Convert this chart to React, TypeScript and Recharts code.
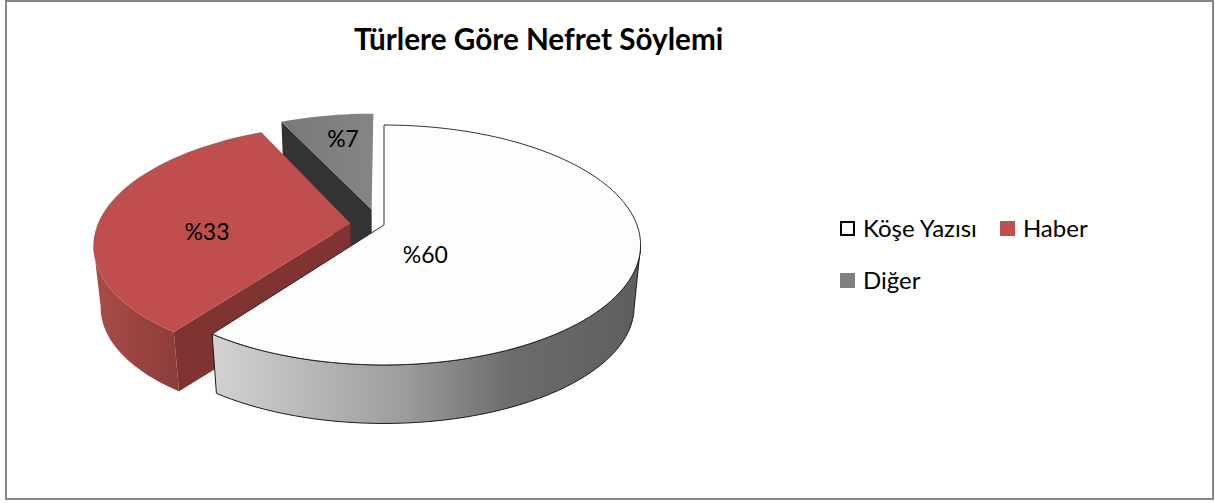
import { PieChart, Pie, Legend } from "recharts";

const categories = ["Köşe Yazısı", "Haber", "Diğer"];
const shares = [60, 33, 7];

const FONT = "Lato, sans-serif";
const WIDTH = 1215;
const HEIGHT = 503;

// tilt of the fake 3d disc
const PERSPECTIVE = 1 / 6;
const SQUASH = 0.461;
const FLOOR_SCALE = 0.975;
const DEPTH = 62;

const looks: Record<string, any> = {
  "Köşe Yazısı": {
    top: "#FDFDFD", side: "url(#whiteSide)", cut: "#FDFDFD", stroke: "#1a1a1a", legend: "#FFFFFF", legendStroke: "#000",
    shift: [0, 0], labelAt: 0.3, nudge: [-32, 18],
  },
  Haber: {
    top: "#BE4F4C", side: "url(#redSide)", cut: "#7F3432", stroke: "none", legend: "#C0504D", legendStroke: "#C0504D",
    shift: [-0.133, -0.013], labelAt: 0.565, nudge: [-3, 14],
  },
  "Diğer": {
    top: "url(#greyTop)", side: "#5a5a5a", cut: "#333333", stroke: "none", legend: "#7F7F7F", legendStroke: "#7F7F7F",
    shift: [-0.05, -0.135], labelAt: 0.72, nudge: [5, -1],
  },
};

// painted back to front, so the first category comes last and the angles run the other way
const tableData = categories.map((name, i) => ({ name, value: shares[i] })).reverse();

const rad = (deg: number) => (deg * Math.PI) / 180;

function project(theta: number, frac: number, look: any, R: number, floor = false) {
  const X = frac * Math.sin(rad(theta)) + look.shift[0];
  const Y = -frac * Math.cos(rad(theta)) + look.shift[1];
  const w = 1 - PERSPECTIVE * Y;
  const sx = (R * X) / w;
  const sy = (SQUASH * R * Y) / w;
  return floor ? [sx * FLOOR_SCALE, sy * FLOOR_SCALE + DEPTH] : [sx, sy];
}

const toPath = (pts: number[][], cx: number, cy: number) =>
  "M" + pts.map((p) => `${(p[0] + cx).toFixed(2)},${(p[1] + cy).toFixed(2)}`).join("L") + "Z";

function DiscSlice(props: any) {
  const { cx, cy, outerRadius: R, startAngle, endAngle } = props;
  const name = props.payload?.name ?? props.name;
  const look = looks[name];
  // recharts angles are counter clockwise from 3 o'clock, here clockwise from 12
  const a = 90 - endAngle + 360;
  const b = 90 - startAngle + 360;
  const t1 = Math.min(a, b);
  const t2 = Math.max(a, b);

  const steps = Math.max(8, Math.ceil((t2 - t1) / 2));
  const thetas = Array.from({ length: steps + 1 }, (_, i) => t1 + ((t2 - t1) * i) / steps);
  const topRim = thetas.map((t) => project(t, 1, look, R));
  const floorRim = thetas.map((t) => project(t, 1, look, R, true));
  const apex = project(0, 0, look, R);
  const apexFloor = project(0, 0, look, R, true);

  // the wall only runs over the part of the rim that faces the viewer
  const facing = thetas.map((t) => -Math.cos(rad(t)) >= PERSPECTIVE);
  const wallTop = topRim.filter((_, i) => facing[i]);
  const wallFloor = floorRim.filter((_, i) => facing[i]).reverse();

  const showStart = Math.sin(rad(t1)) < -0.01;
  const showEnd = Math.sin(rad(t2)) > 0.01;
  const last = topRim.length - 1;
  const cutFace = (i: number) => toPath([apex, topRim[i], floorRim[i], apexFloor], cx, cy);

  return (
    <g>
      {wallTop.length > 1 && (
        <path d={toPath([...wallTop, ...wallFloor], cx, cy)} fill={look.side} stroke={look.stroke} strokeWidth={1} />
      )}
      {showStart && <path d={cutFace(0)} fill={look.cut} />}
      {showEnd && <path d={cutFace(last)} fill={look.cut} />}
      <path d={toPath([apex, ...topRim], cx, cy)} fill={look.top} stroke={look.stroke} strokeWidth={0.9} />
    </g>
  );
}

function sliceLabel(props: any) {
  const { cx, cy, outerRadius, midAngle, name, value } = props;
  const look = looks[name];
  const p = project(90 - midAngle, look.labelAt, look, outerRadius);
  return (
    <text
      x={cx + p[0] + look.nudge[0]}
      y={cy + p[1] + look.nudge[1]}
      textAnchor="middle"
      dominantBaseline="central"
      fontFamily={FONT}
      fontSize={23}
      fill="#000"
    >
      %{value}
    </text>
  );
}

function LegendBox({ payload }: any) {
  const items = [...(payload ?? [])].reverse();
  return (
    <div style={{ display: "flex", flexWrap: "wrap", width: 290, fontFamily: FONT, fontSize: 24, color: "#000", lineHeight: "28px", rowGap: 24 }}>
      {items.map((it: any) => {
        const look = looks[it.value];
        return (
          <div key={it.value} style={{ display: "flex", alignItems: "center", marginRight: 23 }}>
            <svg width={15} height={15} style={{ marginRight: 8 }}>
              <rect x={1} y={1} width={13} height={13} fill={look.legend} stroke={look.legendStroke} strokeWidth={2} />
            </svg>
            <span>{it.value}</span>
          </div>
        );
      })}
    </div>
  );
}

export default function App() {
  return (
    <div style={{ position: "absolute", left: 0, top: 0, width: WIDTH, height: HEIGHT, background: "#fff" }}>
      <div
        style={{
          position: "absolute",
          left: 5,
          top: 0,
          width: 1209,
          height: 500,
          boxSizing: "border-box",
          border: "2px solid #868686",
        }}
      />
      <PieChart width={WIDTH} height={HEIGHT} margin={{ top: 0, right: 0, bottom: 0, left: 0 }} style={{ position: "absolute", left: 0, top: 0 }}>
        <defs>
          <linearGradient id="whiteSide" gradientUnits="userSpaceOnUse" x1={213} y1={0} x2={640} y2={0}>
            <stop offset="0%" stopColor="#D2D2D2" />
            <stop offset="45%" stopColor="#9C9C9C" />
            <stop offset="70%" stopColor="#6C6C6C" />
            <stop offset="100%" stopColor="#5E5E5E" />
          </linearGradient>
          <linearGradient id="redSide" gradientUnits="userSpaceOnUse" x1={94} y1={0} x2={180} y2={0}>
            <stop offset="0%" stopColor="#A94C48" />
            <stop offset="100%" stopColor="#8C3D3A" />
          </linearGradient>
          <linearGradient id="greyTop" gradientUnits="userSpaceOnUse" x1={282} y1={0} x2={372} y2={0}>
            <stop offset="0%" stopColor="#787878" />
            <stop offset="100%" stopColor="#858585" />
          </linearGradient>
        </defs>
        <text x={354} y={50} fontFamily={FONT} fontWeight={700} fontSize={29.7} fill="#000">
          Türlere Göre Nefret Söylemi
        </text>
        <Pie
          data={tableData}
          dataKey="value"
          nameKey="name"
          cx={384}
          cy={225}
          outerRadius={253}
          startAngle={90}
          endAngle={450}
          stroke="none"
          shape={DiscSlice}
          label={sliceLabel}
          labelLine={false}
          isAnimationActive={false}
        />
        <Legend content={LegendBox} wrapperStyle={{ left: 840, top: 214, width: 290, bottom: "auto" }} />
      </PieChart>
    </div>
  );
}
